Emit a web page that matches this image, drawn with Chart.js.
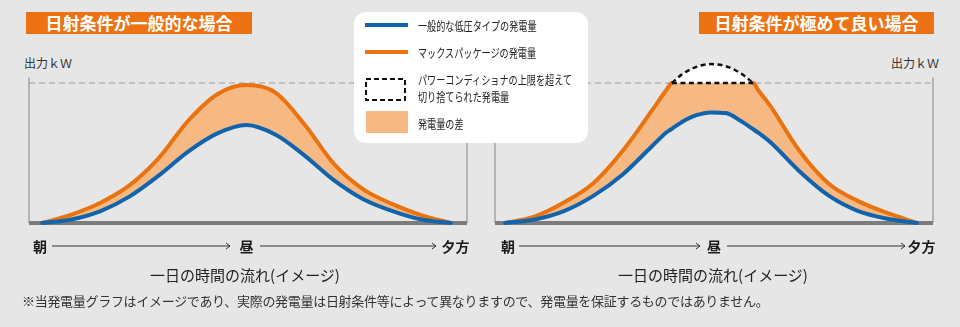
<!DOCTYPE html>
<html lang="ja">
<head>
<meta charset="utf-8">
<title>発電量イメージ</title>
<script src="https://cdn.jsdelivr.net/npm/chart.js@4.4.1/dist/chart.umd.min.js"></script>
<style>
  html, body { margin: 0; padding: 0; }
  body {
    width: 960px; height: 327px; position: relative; overflow: hidden;
    background: #e6e6e6; color: #222;
    font-family: "Noto Sans CJK JP", "Noto Sans", sans-serif;
  }
  canvas { position: absolute; top: 40px; }
  #chartNormal { left: 0; }
  #chartSunny { left: 480px; }
  .title {
    position: absolute; top: 12px; height: 22px; line-height: 22px;
    background: #ec7213; color: #fff; font-size: 17px; font-weight: 700; text-align: center;
  }
  .unit { position: absolute; top: 55px; font-size: 12px; line-height: 16px; color: #333; }
  .c { position: absolute; transform: translate(-50%, -50%); white-space: nowrap; }
  .tick { font-size: 14px; font-weight: 700; color: #1a1a1a; }
  .sub { font-size: 15px; color: #222; }
  .note {
    position: absolute; left: 22px; top: 293px; font-size: 13px; line-height: 16px;
    letter-spacing: -0.3px; color: #333; white-space: nowrap;
  }
  #legend {
    position: absolute; left: 354px; top: 12px; width: 234px; height: 131px;
    background: #fff; border-radius: 12px; z-index: 2;
  }
  #legend svg { position: absolute; left: 0; top: 0; }
  .lg {
    position: absolute; left: 64px; font-size: 12px; line-height: 14px; color: #222;
    white-space: nowrap; transform: scaleX(0.76); transform-origin: 0 50%;
  }
  #arrows { position: absolute; left: 0; top: 0; }
</style>
</head>
<body>

<div class="title" style="left:26px; width:226px;">日射条件が一般的な場合</div>
<div class="title" style="left:699px; width:235px;">日射条件が極めて良い場合</div>

<div class="unit" style="left:24px;">出力ｋＷ</div>
<div class="unit" style="left:891px;">出力ｋＷ</div>

<canvas id="chartNormal" width="480" height="200"></canvas>
<canvas id="chartSunny" width="480" height="200"></canvas>

<div id="legend">
  <svg width="234" height="131">
    <line x1="11" y1="13" x2="54" y2="13" stroke="#0f64ad" stroke-width="4"/>
    <line x1="11" y1="40" x2="54" y2="40" stroke="#ea7311" stroke-width="4"/>
    <rect x="12" y="67" width="39" height="21" fill="none" stroke="#111" stroke-width="2" stroke-dasharray="5 3"/>
    <rect x="12" y="99" width="42" height="22" fill="#f7b984"/>
  </svg>
  <div class="lg" style="top:7px;">一般的な低圧タイプの発電量</div>
  <div class="lg" style="top:34px;">マックスパッケージの発電量</div>
  <div class="lg" style="top:61px;">パワーコンディショナの上限を超えて</div>
  <div class="lg" style="top:78px;">切り捨てられた発電量</div>
  <div class="lg" style="top:105px;">発電量の差</div>
</div>

<svg id="arrows" width="960" height="327">
  <g stroke="#333" stroke-width="1" fill="none">
    <line x1="52" y1="246" x2="230" y2="246"/><polyline points="226,243 230,246 226,249"/>
    <line x1="260" y1="246" x2="436" y2="246"/><polyline points="432,243 436,246 432,249"/>
    <line x1="519" y1="246" x2="700" y2="246"/><polyline points="696,243 700,246 696,249"/>
    <line x1="727" y1="246" x2="905" y2="246"/><polyline points="901,243 905,246 901,249"/>
  </g>
</svg>

<div class="c tick" style="left:40px; top:246px;">朝</div>
<div class="c tick" style="left:246.5px; top:246px;">昼</div>
<div class="c tick" style="left:455.5px; top:246px;">夕方</div>
<div class="c tick" style="left:508px; top:246px;">朝</div>
<div class="c tick" style="left:714px; top:246px;">昼</div>
<div class="c tick" style="left:921.5px; top:246px;">夕方</div>

<div class="c sub" style="left:245px; top:274px;">一日の時間の流れ(イメージ)</div>
<div class="c sub" style="left:713px; top:274px;">一日の時間の流れ(イメージ)</div>

<div class="note">※当発電量グラフはイメージであり、実際の発電量は日射条件等によって異なりますので、発電量を保証するものではありません。</div>

<script>
// 時刻（時）と発電量（パワコン上限 = 100）
const hoursNormal = [5, 6, 7, 8, 9, 10, 11, 12, 13, 14, 15, 16, 17, 18, 19];
const lowVoltageNormal = [0, 2.5, 8.5, 19, 34, 51, 64, 70, 63, 48, 30.5, 17, 8.5, 2.5, 0];
const maxPackageNormal = [0, 6, 14.5, 27, 46.5, 73, 92, 98.5, 93, 70, 42, 24, 13.5, 5.5, 0];

const hoursSunny = [5, 6, 7, 8, 9, 10, 10.5, 10.67, 11, 11.5, 12, 12.5, 13, 13.43, 13.6, 14, 15, 16, 17, 18, 19];
const lowVoltageSunny = [0, 2.5, 8.5, 19.4, 34.7, 55, 65, 67.3, 72, 77, 79, 78.5, 73, 67, 64.5, 58, 37, 19.5, 8.5, 3, 0];
const maxPackageSunny = [0, 4.5, 14.6, 28.4, 51.6, 80.6, 95.5, 100, 106, 111.5, 113.5, 112, 107, 100, 95, 84, 51.6, 28, 15.6, 7, 0];

const pcsLimit = 100;
const axisTop = 104;

const BLUE = '#0f64ad';
const ORANGE = '#ea7311';
const DIFF = '#f7b984';

// 枠線（左右の縦線と太い横軸）
const panelFrame = {
  id: 'panelFrame',
  beforeDatasetsDraw(chart) {
    const { ctx, chartArea: { left, right }, scales: { y } } = chart;
    const top = y.getPixelForValue(axisTop);
    const bottom = y.getPixelForValue(0);
    ctx.save();
    ctx.strokeStyle = '#a4a4a4';
    ctx.lineWidth = 1.5;
    ctx.beginPath();
    ctx.moveTo(left, top); ctx.lineTo(left, bottom);
    ctx.moveTo(right, top); ctx.lineTo(right, bottom);
    ctx.stroke();
    ctx.strokeStyle = '#7c7c7c';
    ctx.lineWidth = 4;
    ctx.beginPath();
    ctx.moveTo(left, bottom); ctx.lineTo(right, bottom);
    ctx.stroke();
    ctx.restore();
  }
};

function makePanel(id, hours, low, max, xMin, xMax, padding) {
  const pts = ys => hours.map((h, i) => ({ x: h, y: ys[i] }));
  const clipped = max.map(v => Math.min(v, pcsLimit));
  const over = pts(max).filter(p => p.y >= pcsLimit);
  const dash = { borderColor: '#111', borderWidth: 2.5, borderDash: [5, 3.5], borderCapStyle: 'butt' };

  const datasets = [
    {
      label: '上限',
      data: [{ x: xMin, y: pcsLimit }, { x: xMax, y: pcsLimit }],
      borderColor: '#9d9d9d', borderWidth: 1, borderDash: [6, 4], borderCapStyle: 'butt',
      order: 6
    },
    {
      // 発電量の差（塗りのみ）
      label: '発電量の差',
      data: pts(clipped),
      borderWidth: 0, borderColor: 'rgba(0,0,0,0)',
      backgroundColor: DIFF, fill: 3,
      order: 4
    },
    {
      label: 'マックスパッケージの発電量',
      data: pts(clipped),
      borderColor: ORANGE, borderWidth: 4,
      segment: {
        borderColor: c => (c.p0.parsed.y >= pcsLimit && c.p1.parsed.y >= pcsLimit) ? 'rgba(0,0,0,0)' : undefined
      },
      order: 3
    },
    {
      label: '一般的な低圧タイプの発電量',
      data: pts(low),
      borderColor: BLUE, borderWidth: 4,
      order: 2
    }
  ];

  if (over.length) {
    datasets.push(Object.assign({
      label: '切り捨てられた発電量',
      data: over,
      fill: { target: { value: pcsLimit }, above: '#ffffff', below: 'rgba(0,0,0,0)' },
      order: 1
    }, dash));
    datasets.push(Object.assign({
      label: '上限ライン',
      data: over.map(p => ({ x: p.x, y: pcsLimit })),
      order: 0
    }, dash));
  }

  return new Chart(document.getElementById(id), {
    type: 'line',
    data: { datasets },
    options: {
      responsive: false,
      animation: false,
      devicePixelRatio: 1,
      events: [],
      layout: { padding },
      datasets: { line: { clip: false } },
      elements: {
        line: { cubicInterpolationMode: 'monotone', capBezierPoints: false, borderCapStyle: 'round', borderJoinStyle: 'round' },
        point: { radius: 0 }
      },
      scales: {
        x: { type: 'linear', min: xMin, max: xMax, display: false },
        y: { min: 0, max: 120, display: false }
      },
      plugins: { legend: { display: false }, tooltip: { enabled: false } }
    },
    plugins: [panelFrame]
  });
}

makePanel('chartNormal', hoursNormal, lowVoltageNormal, maxPackageNormal, 4.55, 19.55,
  { left: 29, right: 13, top: 15, bottom: 17 });
makePanel('chartSunny', hoursSunny, lowVoltageSunny, maxPackageSunny, 4.66, 19.54,
  { left: 15, right: 27, top: 15, bottom: 17 });
</script>
</body>
</html>
